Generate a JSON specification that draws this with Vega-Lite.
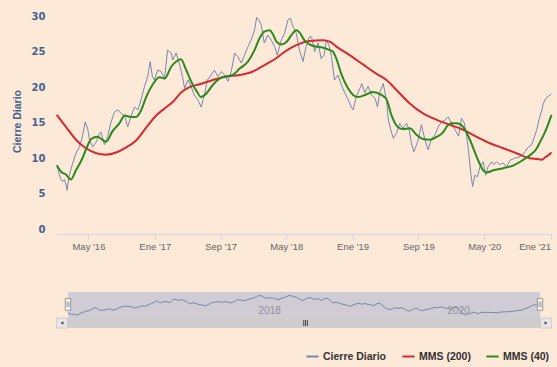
{
  "$schema": "https://vega.github.io/schema/vega-lite/v6.json",
  "background": "#fce9d8",
  "padding": {"left": 12, "top": 11, "right": 40, "bottom": 40},
  "config": {"view": {"stroke": null}, "font": "Liberation Sans"},
  "spacing": 41,
  "data": {"values": [
    {"fecha": "2016-01-07", "valor": 8.8, "serie": "Cierre Diario"},
    {"fecha": "2016-01-18", "valor": 7.2, "serie": "Cierre Diario"},
    {"fecha": "2016-01-26", "valor": 6.7, "serie": "Cierre Diario"},
    {"fecha": "2016-02-02", "valor": 7.0, "serie": "Cierre Diario"},
    {"fecha": "2016-02-09", "valor": 6.2, "serie": "Cierre Diario"},
    {"fecha": "2016-02-12", "valor": 5.5, "serie": "Cierre Diario"},
    {"fecha": "2016-02-19", "valor": 7.4, "serie": "Cierre Diario"},
    {"fecha": "2016-03-04", "valor": 9.3, "serie": "Cierre Diario"},
    {"fecha": "2016-03-16", "valor": 10.7, "serie": "Cierre Diario"},
    {"fecha": "2016-03-29", "valor": 11.6, "serie": "Cierre Diario"},
    {"fecha": "2016-04-08", "valor": 12.9, "serie": "Cierre Diario"},
    {"fecha": "2016-04-19", "valor": 15.1, "serie": "Cierre Diario"},
    {"fecha": "2016-04-28", "valor": 14.2, "serie": "Cierre Diario"},
    {"fecha": "2016-05-05", "valor": 12.6, "serie": "Cierre Diario"},
    {"fecha": "2016-05-17", "valor": 11.6, "serie": "Cierre Diario"},
    {"fecha": "2016-05-30", "valor": 12.3, "serie": "Cierre Diario"},
    {"fecha": "2016-06-10", "valor": 13.4, "serie": "Cierre Diario"},
    {"fecha": "2016-06-16", "valor": 13.7, "serie": "Cierre Diario"},
    {"fecha": "2016-06-29", "valor": 11.9, "serie": "Cierre Diario"},
    {"fecha": "2016-07-11", "valor": 13.0, "serie": "Cierre Diario"},
    {"fecha": "2016-07-22", "valor": 14.9, "serie": "Cierre Diario"},
    {"fecha": "2016-08-05", "valor": 16.5, "serie": "Cierre Diario"},
    {"fecha": "2016-08-17", "valor": 16.8, "serie": "Cierre Diario"},
    {"fecha": "2016-08-30", "valor": 16.3, "serie": "Cierre Diario"},
    {"fecha": "2016-09-12", "valor": 15.9, "serie": "Cierre Diario"},
    {"fecha": "2016-09-23", "valor": 14.4, "serie": "Cierre Diario"},
    {"fecha": "2016-10-05", "valor": 15.9, "serie": "Cierre Diario"},
    {"fecha": "2016-10-18", "valor": 17.2, "serie": "Cierre Diario"},
    {"fecha": "2016-10-31", "valor": 16.8, "serie": "Cierre Diario"},
    {"fecha": "2016-11-11", "valor": 18.2, "serie": "Cierre Diario"},
    {"fecha": "2016-11-24", "valor": 20.1, "serie": "Cierre Diario"},
    {"fecha": "2016-12-06", "valor": 21.5, "serie": "Cierre Diario"},
    {"fecha": "2016-12-15", "valor": 23.6, "serie": "Cierre Diario"},
    {"fecha": "2016-12-23", "valor": 21.5, "serie": "Cierre Diario"},
    {"fecha": "2016-12-30", "valor": 21.0, "serie": "Cierre Diario"},
    {"fecha": "2017-01-12", "valor": 22.4, "serie": "Cierre Diario"},
    {"fecha": "2017-01-24", "valor": 22.2, "serie": "Cierre Diario"},
    {"fecha": "2017-02-06", "valor": 21.2, "serie": "Cierre Diario"},
    {"fecha": "2017-02-17", "valor": 25.2, "serie": "Cierre Diario"},
    {"fecha": "2017-03-03", "valor": 24.8, "serie": "Cierre Diario"},
    {"fecha": "2017-03-08", "valor": 23.8, "serie": "Cierre Diario"},
    {"fecha": "2017-03-21", "valor": 24.8, "serie": "Cierre Diario"},
    {"fecha": "2017-04-03", "valor": 23.1, "serie": "Cierre Diario"},
    {"fecha": "2017-04-13", "valor": 21.5, "serie": "Cierre Diario"},
    {"fecha": "2017-04-21", "valor": 19.8, "serie": "Cierre Diario"},
    {"fecha": "2017-05-03", "valor": 21.0, "serie": "Cierre Diario"},
    {"fecha": "2017-05-15", "valor": 20.1, "serie": "Cierre Diario"},
    {"fecha": "2017-05-26", "valor": 18.9, "serie": "Cierre Diario"},
    {"fecha": "2017-06-09", "valor": 18.2, "serie": "Cierre Diario"},
    {"fecha": "2017-06-21", "valor": 17.2, "serie": "Cierre Diario"},
    {"fecha": "2017-07-04", "valor": 19.1, "serie": "Cierre Diario"},
    {"fecha": "2017-07-14", "valor": 21.0, "serie": "Cierre Diario"},
    {"fecha": "2017-07-28", "valor": 21.7, "serie": "Cierre Diario"},
    {"fecha": "2017-08-09", "valor": 22.4, "serie": "Cierre Diario"},
    {"fecha": "2017-08-22", "valor": 21.5, "serie": "Cierre Diario"},
    {"fecha": "2017-09-04", "valor": 22.2, "serie": "Cierre Diario"},
    {"fecha": "2017-09-15", "valor": 21.7, "serie": "Cierre Diario"},
    {"fecha": "2017-09-28", "valor": 20.8, "serie": "Cierre Diario"},
    {"fecha": "2017-10-10", "valor": 22.2, "serie": "Cierre Diario"},
    {"fecha": "2017-10-23", "valor": 24.8, "serie": "Cierre Diario"},
    {"fecha": "2017-11-03", "valor": 24.3, "serie": "Cierre Diario"},
    {"fecha": "2017-11-16", "valor": 23.4, "serie": "Cierre Diario"},
    {"fecha": "2017-11-28", "valor": 24.5, "serie": "Cierre Diario"},
    {"fecha": "2017-12-11", "valor": 25.7, "serie": "Cierre Diario"},
    {"fecha": "2017-12-22", "valor": 26.6, "serie": "Cierre Diario"},
    {"fecha": "2018-01-04", "valor": 28.0, "serie": "Cierre Diario"},
    {"fecha": "2018-01-12", "valor": 29.8, "serie": "Cierre Diario"},
    {"fecha": "2018-01-22", "valor": 29.3, "serie": "Cierre Diario"},
    {"fecha": "2018-01-29", "valor": 28.7, "serie": "Cierre Diario"},
    {"fecha": "2018-02-09", "valor": 26.2, "serie": "Cierre Diario"},
    {"fecha": "2018-02-22", "valor": 27.3, "serie": "Cierre Diario"},
    {"fecha": "2018-03-07", "valor": 26.6, "serie": "Cierre Diario"},
    {"fecha": "2018-03-19", "valor": 25.7, "serie": "Cierre Diario"},
    {"fecha": "2018-03-29", "valor": 24.5, "serie": "Cierre Diario"},
    {"fecha": "2018-04-13", "valor": 26.6, "serie": "Cierre Diario"},
    {"fecha": "2018-04-25", "valor": 27.6, "serie": "Cierre Diario"},
    {"fecha": "2018-05-07", "valor": 29.4, "serie": "Cierre Diario"},
    {"fecha": "2018-05-16", "valor": 29.7, "serie": "Cierre Diario"},
    {"fecha": "2018-05-25", "valor": 28.6, "serie": "Cierre Diario"},
    {"fecha": "2018-06-07", "valor": 27.6, "serie": "Cierre Diario"},
    {"fecha": "2018-06-19", "valor": 25.2, "serie": "Cierre Diario"},
    {"fecha": "2018-07-02", "valor": 23.6, "serie": "Cierre Diario"},
    {"fecha": "2018-07-13", "valor": 25.7, "serie": "Cierre Diario"},
    {"fecha": "2018-07-26", "valor": 27.1, "serie": "Cierre Diario"},
    {"fecha": "2018-08-03", "valor": 27.0, "serie": "Cierre Diario"},
    {"fecha": "2018-08-14", "valor": 25.0, "serie": "Cierre Diario"},
    {"fecha": "2018-08-27", "valor": 26.2, "serie": "Cierre Diario"},
    {"fecha": "2018-09-07", "valor": 24.0, "serie": "Cierre Diario"},
    {"fecha": "2018-09-18", "valor": 24.5, "serie": "Cierre Diario"},
    {"fecha": "2018-09-26", "valor": 26.6, "serie": "Cierre Diario"},
    {"fecha": "2018-10-05", "valor": 26.0, "serie": "Cierre Diario"},
    {"fecha": "2018-10-15", "valor": 24.3, "serie": "Cierre Diario"},
    {"fecha": "2018-10-26", "valor": 21.0, "serie": "Cierre Diario"},
    {"fecha": "2018-11-08", "valor": 21.7, "serie": "Cierre Diario"},
    {"fecha": "2018-11-21", "valor": 20.3, "serie": "Cierre Diario"},
    {"fecha": "2018-12-03", "valor": 19.2, "serie": "Cierre Diario"},
    {"fecha": "2018-12-14", "valor": 18.4, "serie": "Cierre Diario"},
    {"fecha": "2018-12-27", "valor": 17.2, "serie": "Cierre Diario"},
    {"fecha": "2019-01-03", "valor": 16.8, "serie": "Cierre Diario"},
    {"fecha": "2019-01-15", "valor": 18.7, "serie": "Cierre Diario"},
    {"fecha": "2019-01-28", "valor": 19.8, "serie": "Cierre Diario"},
    {"fecha": "2019-02-04", "valor": 20.5, "serie": "Cierre Diario"},
    {"fecha": "2019-02-15", "valor": 19.2, "serie": "Cierre Diario"},
    {"fecha": "2019-02-27", "valor": 20.1, "serie": "Cierre Diario"},
    {"fecha": "2019-03-12", "valor": 18.9, "serie": "Cierre Diario"},
    {"fecha": "2019-03-25", "valor": 18.4, "serie": "Cierre Diario"},
    {"fecha": "2019-04-03", "valor": 17.2, "serie": "Cierre Diario"},
    {"fecha": "2019-04-11", "valor": 19.2, "serie": "Cierre Diario"},
    {"fecha": "2019-04-24", "valor": 20.5, "serie": "Cierre Diario"},
    {"fecha": "2019-05-06", "valor": 18.2, "serie": "Cierre Diario"},
    {"fecha": "2019-05-13", "valor": 15.4, "serie": "Cierre Diario"},
    {"fecha": "2019-05-22", "valor": 14.0, "serie": "Cierre Diario"},
    {"fecha": "2019-05-31", "valor": 12.8, "serie": "Cierre Diario"},
    {"fecha": "2019-06-12", "valor": 13.5, "serie": "Cierre Diario"},
    {"fecha": "2019-06-24", "valor": 14.9, "serie": "Cierre Diario"},
    {"fecha": "2019-07-05", "valor": 14.2, "serie": "Cierre Diario"},
    {"fecha": "2019-07-19", "valor": 14.9, "serie": "Cierre Diario"},
    {"fecha": "2019-07-29", "valor": 14.0, "serie": "Cierre Diario"},
    {"fecha": "2019-08-06", "valor": 12.1, "serie": "Cierre Diario"},
    {"fecha": "2019-08-15", "valor": 10.9, "serie": "Cierre Diario"},
    {"fecha": "2019-08-29", "valor": 12.3, "serie": "Cierre Diario"},
    {"fecha": "2019-09-12", "valor": 14.7, "serie": "Cierre Diario"},
    {"fecha": "2019-09-25", "valor": 12.6, "serie": "Cierre Diario"},
    {"fecha": "2019-10-07", "valor": 11.2, "serie": "Cierre Diario"},
    {"fecha": "2019-10-18", "valor": 12.6, "serie": "Cierre Diario"},
    {"fecha": "2019-11-01", "valor": 13.3, "serie": "Cierre Diario"},
    {"fecha": "2019-11-13", "valor": 14.4, "serie": "Cierre Diario"},
    {"fecha": "2019-11-25", "valor": 15.1, "serie": "Cierre Diario"},
    {"fecha": "2019-12-09", "valor": 15.4, "serie": "Cierre Diario"},
    {"fecha": "2019-12-20", "valor": 15.8, "serie": "Cierre Diario"},
    {"fecha": "2020-01-02", "valor": 14.9, "serie": "Cierre Diario"},
    {"fecha": "2020-01-14", "valor": 14.0, "serie": "Cierre Diario"},
    {"fecha": "2020-01-27", "valor": 13.1, "serie": "Cierre Diario"},
    {"fecha": "2020-02-07", "valor": 15.6, "serie": "Cierre Diario"},
    {"fecha": "2020-02-17", "valor": 15.0, "serie": "Cierre Diario"},
    {"fecha": "2020-02-26", "valor": 13.1, "serie": "Cierre Diario"},
    {"fecha": "2020-03-05", "valor": 10.7, "serie": "Cierre Diario"},
    {"fecha": "2020-03-12", "valor": 7.9, "serie": "Cierre Diario"},
    {"fecha": "2020-03-19", "valor": 6.0, "serie": "Cierre Diario"},
    {"fecha": "2020-03-27", "valor": 7.6, "serie": "Cierre Diario"},
    {"fecha": "2020-04-06", "valor": 7.4, "serie": "Cierre Diario"},
    {"fecha": "2020-04-15", "valor": 8.8, "serie": "Cierre Diario"},
    {"fecha": "2020-04-27", "valor": 9.5, "serie": "Cierre Diario"},
    {"fecha": "2020-05-06", "valor": 7.6, "serie": "Cierre Diario"},
    {"fecha": "2020-05-15", "valor": 8.8, "serie": "Cierre Diario"},
    {"fecha": "2020-05-28", "valor": 9.5, "serie": "Cierre Diario"},
    {"fecha": "2020-06-05", "valor": 9.1, "serie": "Cierre Diario"},
    {"fecha": "2020-06-15", "valor": 9.5, "serie": "Cierre Diario"},
    {"fecha": "2020-06-26", "valor": 9.1, "serie": "Cierre Diario"},
    {"fecha": "2020-07-10", "valor": 9.3, "serie": "Cierre Diario"},
    {"fecha": "2020-07-23", "valor": 8.8, "serie": "Cierre Diario"},
    {"fecha": "2020-08-04", "valor": 9.7, "serie": "Cierre Diario"},
    {"fecha": "2020-08-21", "valor": 10.0, "serie": "Cierre Diario"},
    {"fecha": "2020-09-10", "valor": 10.2, "serie": "Cierre Diario"},
    {"fecha": "2020-09-28", "valor": 10.9, "serie": "Cierre Diario"},
    {"fecha": "2020-10-12", "valor": 11.6, "serie": "Cierre Diario"},
    {"fecha": "2020-10-23", "valor": 11.9, "serie": "Cierre Diario"},
    {"fecha": "2020-11-02", "valor": 13.0, "serie": "Cierre Diario"},
    {"fecha": "2020-11-11", "valor": 14.0, "serie": "Cierre Diario"},
    {"fecha": "2020-11-19", "valor": 15.4, "serie": "Cierre Diario"},
    {"fecha": "2020-11-30", "valor": 16.8, "serie": "Cierre Diario"},
    {"fecha": "2020-12-04", "valor": 17.6, "serie": "Cierre Diario"},
    {"fecha": "2020-12-14", "valor": 18.4, "serie": "Cierre Diario"},
    {"fecha": "2020-12-23", "valor": 18.7, "serie": "Cierre Diario"},
    {"fecha": "2021-01-04", "valor": 19.0, "serie": "Cierre Diario"},
    {"fecha": "2016-01-05", "valor": 16.1, "serie": "MMS (200)"},
    {"fecha": "2016-02-08", "valor": 14.4, "serie": "MMS (200)"},
    {"fecha": "2016-03-16", "valor": 12.6, "serie": "MMS (200)"},
    {"fecha": "2016-04-22", "valor": 11.4, "serie": "MMS (200)"},
    {"fecha": "2016-05-30", "valor": 10.7, "serie": "MMS (200)"},
    {"fecha": "2016-07-05", "valor": 10.5, "serie": "MMS (200)"},
    {"fecha": "2016-08-11", "valor": 10.8, "serie": "MMS (200)"},
    {"fecha": "2016-09-16", "valor": 11.5, "serie": "MMS (200)"},
    {"fecha": "2016-10-24", "valor": 12.5, "serie": "MMS (200)"},
    {"fecha": "2016-11-30", "valor": 14.3, "serie": "MMS (200)"},
    {"fecha": "2017-01-06", "valor": 16.0, "serie": "MMS (200)"},
    {"fecha": "2017-02-13", "valor": 17.2, "serie": "MMS (200)"},
    {"fecha": "2017-03-08", "valor": 17.9, "serie": "MMS (200)"},
    {"fecha": "2017-04-07", "valor": 19.2, "serie": "MMS (200)"},
    {"fecha": "2017-05-09", "valor": 20.0, "serie": "MMS (200)"},
    {"fecha": "2017-06-15", "valor": 20.4, "serie": "MMS (200)"},
    {"fecha": "2017-08-03", "valor": 21.0, "serie": "MMS (200)"},
    {"fecha": "2017-09-22", "valor": 21.5, "serie": "MMS (200)"},
    {"fecha": "2017-11-10", "valor": 21.7, "serie": "MMS (200)"},
    {"fecha": "2017-12-29", "valor": 22.2, "serie": "MMS (200)"},
    {"fecha": "2018-02-05", "valor": 23.0, "serie": "MMS (200)"},
    {"fecha": "2018-03-01", "valor": 23.5, "serie": "MMS (200)"},
    {"fecha": "2018-03-26", "valor": 24.1, "serie": "MMS (200)"},
    {"fecha": "2018-04-19", "valor": 24.8, "serie": "MMS (200)"},
    {"fecha": "2018-06-07", "valor": 25.9, "serie": "MMS (200)"},
    {"fecha": "2018-07-26", "valor": 26.5, "serie": "MMS (200)"},
    {"fecha": "2018-09-14", "valor": 26.6, "serie": "MMS (200)"},
    {"fecha": "2018-10-09", "valor": 26.4, "serie": "MMS (200)"},
    {"fecha": "2018-11-02", "valor": 25.7, "serie": "MMS (200)"},
    {"fecha": "2018-12-21", "valor": 24.5, "serie": "MMS (200)"},
    {"fecha": "2019-02-08", "valor": 23.2, "serie": "MMS (200)"},
    {"fecha": "2019-03-29", "valor": 21.9, "serie": "MMS (200)"},
    {"fecha": "2019-05-06", "valor": 21.0, "serie": "MMS (200)"},
    {"fecha": "2019-06-12", "valor": 19.6, "serie": "MMS (200)"},
    {"fecha": "2019-07-31", "valor": 17.7, "serie": "MMS (200)"},
    {"fecha": "2019-09-18", "valor": 16.3, "serie": "MMS (200)"},
    {"fecha": "2019-11-07", "valor": 15.4, "serie": "MMS (200)"},
    {"fecha": "2019-12-26", "valor": 14.7, "serie": "MMS (200)"},
    {"fecha": "2020-02-13", "valor": 14.0, "serie": "MMS (200)"},
    {"fecha": "2020-04-03", "valor": 13.0, "serie": "MMS (200)"},
    {"fecha": "2020-05-22", "valor": 12.1, "serie": "MMS (200)"},
    {"fecha": "2020-07-10", "valor": 11.4, "serie": "MMS (200)"},
    {"fecha": "2020-08-28", "valor": 10.7, "serie": "MMS (200)"},
    {"fecha": "2020-10-16", "valor": 10.0, "serie": "MMS (200)"},
    {"fecha": "2020-11-11", "valor": 9.9, "serie": "MMS (200)"},
    {"fecha": "2020-11-30", "valor": 9.8, "serie": "MMS (200)"},
    {"fecha": "2020-12-11", "valor": 10.1, "serie": "MMS (200)"},
    {"fecha": "2020-12-23", "valor": 10.4, "serie": "MMS (200)"},
    {"fecha": "2021-01-04", "valor": 10.8, "serie": "MMS (200)"},
    {"fecha": "2016-01-05", "valor": 9.0, "serie": "MMS (40)"},
    {"fecha": "2016-01-21", "valor": 8.1, "serie": "MMS (40)"},
    {"fecha": "2016-02-08", "valor": 7.7, "serie": "MMS (40)"},
    {"fecha": "2016-02-26", "valor": 7.0, "serie": "MMS (40)"},
    {"fecha": "2016-03-16", "valor": 8.3, "serie": "MMS (40)"},
    {"fecha": "2016-04-04", "valor": 9.6, "serie": "MMS (40)"},
    {"fecha": "2016-04-25", "valor": 11.5, "serie": "MMS (40)"},
    {"fecha": "2016-05-11", "valor": 12.7, "serie": "MMS (40)"},
    {"fecha": "2016-06-03", "valor": 13.0, "serie": "MMS (40)"},
    {"fecha": "2016-06-21", "valor": 12.6, "serie": "MMS (40)"},
    {"fecha": "2016-07-05", "valor": 12.3, "serie": "MMS (40)"},
    {"fecha": "2016-07-29", "valor": 13.8, "serie": "MMS (40)"},
    {"fecha": "2016-08-23", "valor": 14.9, "serie": "MMS (40)"},
    {"fecha": "2016-09-12", "valor": 16.0, "serie": "MMS (40)"},
    {"fecha": "2016-10-05", "valor": 15.8, "serie": "MMS (40)"},
    {"fecha": "2016-10-24", "valor": 15.8, "serie": "MMS (40)"},
    {"fecha": "2016-11-11", "valor": 16.7, "serie": "MMS (40)"},
    {"fecha": "2016-11-30", "valor": 18.6, "serie": "MMS (40)"},
    {"fecha": "2016-12-23", "valor": 20.3, "serie": "MMS (40)"},
    {"fecha": "2017-01-18", "valor": 21.4, "serie": "MMS (40)"},
    {"fecha": "2017-02-06", "valor": 21.2, "serie": "MMS (40)"},
    {"fecha": "2017-03-03", "valor": 22.9, "serie": "MMS (40)"},
    {"fecha": "2017-03-21", "valor": 23.6, "serie": "MMS (40)"},
    {"fecha": "2017-04-07", "valor": 23.9, "serie": "MMS (40)"},
    {"fecha": "2017-04-27", "valor": 22.4, "serie": "MMS (40)"},
    {"fecha": "2017-05-15", "valor": 20.8, "serie": "MMS (40)"},
    {"fecha": "2017-06-05", "valor": 19.4, "serie": "MMS (40)"},
    {"fecha": "2017-06-21", "valor": 18.6, "serie": "MMS (40)"},
    {"fecha": "2017-07-10", "valor": 19.1, "serie": "MMS (40)"},
    {"fecha": "2017-08-03", "valor": 20.3, "serie": "MMS (40)"},
    {"fecha": "2017-08-28", "valor": 21.2, "serie": "MMS (40)"},
    {"fecha": "2017-09-22", "valor": 21.5, "serie": "MMS (40)"},
    {"fecha": "2017-10-16", "valor": 21.7, "serie": "MMS (40)"},
    {"fecha": "2017-11-10", "valor": 22.6, "serie": "MMS (40)"},
    {"fecha": "2017-12-11", "valor": 23.6, "serie": "MMS (40)"},
    {"fecha": "2018-01-04", "valor": 25.2, "serie": "MMS (40)"},
    {"fecha": "2018-01-23", "valor": 26.9, "serie": "MMS (40)"},
    {"fecha": "2018-02-09", "valor": 27.8, "serie": "MMS (40)"},
    {"fecha": "2018-03-01", "valor": 28.0, "serie": "MMS (40)"},
    {"fecha": "2018-03-12", "valor": 27.5, "serie": "MMS (40)"},
    {"fecha": "2018-03-26", "valor": 26.4, "serie": "MMS (40)"},
    {"fecha": "2018-04-13", "valor": 26.0, "serie": "MMS (40)"},
    {"fecha": "2018-05-01", "valor": 26.3, "serie": "MMS (40)"},
    {"fecha": "2018-05-20", "valor": 27.3, "serie": "MMS (40)"},
    {"fecha": "2018-06-07", "valor": 28.0, "serie": "MMS (40)"},
    {"fecha": "2018-06-19", "valor": 27.7, "serie": "MMS (40)"},
    {"fecha": "2018-07-07", "valor": 26.6, "serie": "MMS (40)"},
    {"fecha": "2018-07-26", "valor": 26.0, "serie": "MMS (40)"},
    {"fecha": "2018-08-19", "valor": 25.7, "serie": "MMS (40)"},
    {"fecha": "2018-09-08", "valor": 25.6, "serie": "MMS (40)"},
    {"fecha": "2018-10-02", "valor": 25.3, "serie": "MMS (40)"},
    {"fecha": "2018-10-20", "valor": 25.0, "serie": "MMS (40)"},
    {"fecha": "2018-11-02", "valor": 24.0, "serie": "MMS (40)"},
    {"fecha": "2018-11-21", "valor": 21.8, "serie": "MMS (40)"},
    {"fecha": "2018-12-14", "valor": 19.9, "serie": "MMS (40)"},
    {"fecha": "2019-01-03", "valor": 18.9, "serie": "MMS (40)"},
    {"fecha": "2019-01-22", "valor": 18.6, "serie": "MMS (40)"},
    {"fecha": "2019-02-22", "valor": 19.0, "serie": "MMS (40)"},
    {"fecha": "2019-03-17", "valor": 19.3, "serie": "MMS (40)"},
    {"fecha": "2019-04-17", "valor": 18.9, "serie": "MMS (40)"},
    {"fecha": "2019-05-06", "valor": 18.3, "serie": "MMS (40)"},
    {"fecha": "2019-05-25", "valor": 16.0, "serie": "MMS (40)"},
    {"fecha": "2019-06-17", "valor": 14.4, "serie": "MMS (40)"},
    {"fecha": "2019-07-05", "valor": 14.1, "serie": "MMS (40)"},
    {"fecha": "2019-07-31", "valor": 14.2, "serie": "MMS (40)"},
    {"fecha": "2019-08-25", "valor": 13.3, "serie": "MMS (40)"},
    {"fecha": "2019-09-18", "valor": 12.7, "serie": "MMS (40)"},
    {"fecha": "2019-10-13", "valor": 12.6, "serie": "MMS (40)"},
    {"fecha": "2019-11-07", "valor": 13.0, "serie": "MMS (40)"},
    {"fecha": "2019-11-30", "valor": 13.6, "serie": "MMS (40)"},
    {"fecha": "2019-12-20", "valor": 14.7, "serie": "MMS (40)"},
    {"fecha": "2020-01-03", "valor": 14.9, "serie": "MMS (40)"},
    {"fecha": "2020-01-20", "valor": 14.9, "serie": "MMS (40)"},
    {"fecha": "2020-02-13", "valor": 14.4, "serie": "MMS (40)"},
    {"fecha": "2020-03-09", "valor": 12.6, "serie": "MMS (40)"},
    {"fecha": "2020-04-03", "valor": 10.2, "serie": "MMS (40)"},
    {"fecha": "2020-04-27", "valor": 8.3, "serie": "MMS (40)"},
    {"fecha": "2020-05-10", "valor": 8.0, "serie": "MMS (40)"},
    {"fecha": "2020-06-04", "valor": 8.3, "serie": "MMS (40)"},
    {"fecha": "2020-07-10", "valor": 8.6, "serie": "MMS (40)"},
    {"fecha": "2020-08-18", "valor": 9.0, "serie": "MMS (40)"},
    {"fecha": "2020-09-23", "valor": 9.8, "serie": "MMS (40)"},
    {"fecha": "2020-10-16", "valor": 10.4, "serie": "MMS (40)"},
    {"fecha": "2020-11-11", "valor": 11.4, "serie": "MMS (40)"},
    {"fecha": "2020-11-23", "valor": 12.3, "serie": "MMS (40)"},
    {"fecha": "2020-12-04", "valor": 13.1, "serie": "MMS (40)"},
    {"fecha": "2020-12-17", "valor": 14.2, "serie": "MMS (40)"},
    {"fecha": "2021-01-04", "valor": 16.1, "serie": "MMS (40)"}
  ]},
  "vconcat": [
    {
      "width": 495,
      "height": 218,
      "encoding": {
        "x": {
          "field": "fecha", "type": "temporal",
          "scale": {"domain": [{"year": 2016, "month": 1, "date": 6, "utc": true}, {"year": 2021, "month": 1, "date": 6, "utc": true}]},
          "axis": {
            "title": null,
            "values": [
              {"year": 2016, "month": 5, "date": 1, "utc": true},
              {"year": 2017, "month": 1, "date": 1, "utc": true},
              {"year": 2017, "month": 9, "date": 1, "utc": true},
              {"year": 2018, "month": 5, "date": 1, "utc": true},
              {"year": 2019, "month": 1, "date": 1, "utc": true},
              {"year": 2019, "month": 9, "date": 1, "utc": true},
              {"year": 2020, "month": 5, "date": 1, "utc": true},
              {"year": 2021, "month": 1, "date": 1, "utc": true}
            ],
            "labelExpr": "['Ene','Feb','Mar','Abr','May','Jun','Jul','Ago','Sep','Oct','Nov','Dic'][utcmonth(datum.value)] + \" '\" + utcFormat(datum.value, '%y')",
            "grid": false,
            "domainColor": "#d3d6e0",
            "tickColor": "#d3d6e0",
            "tickSize": 5,
            "labelPadding": 2,
            "labelColor": "#666666",
            "labelFont": "Liberation Sans",
            "labelFontSize": 9.5,
            "labelFlush": 5
          }
        },
        "y": {
          "field": "valor", "type": "quantitative",
          "scale": {"domain": [-0.66, 30], "nice": false, "zero": false},
          "axis": {
            "title": "Cierre Diario",
            "values": [0, 5, 10, 15, 20, 25, 30],
            "grid": false, "domain": false, "ticks": false,
            "labelPadding": 12,
            "labelFont": "DejaVu Sans",
            "labelFontWeight": "bold",
            "labelFontSize": 10,
            "labelColor": "#44628f",
            "titleFont": "Liberation Sans",
            "titleFontSize": 10.5,
            "titleFontWeight": "bold",
            "titleColor": "#44628f",
            "titleX": -40,
            "titleY": 105,
            "titleAlign": "center",
            "titleBaseline": "middle"
          }
        },
        "color": {
          "field": "serie", "type": "nominal",
          "scale": {"domain": ["Cierre Diario", "MMS (200)", "MMS (40)"], "range": ["#7788ad", "#d42a2e", "#2b8a1e"]},
          "legend": {
            "title": null,
            "orient": "none",
            "legendX": 248,
            "legendY": 333,
            "direction": "horizontal",
            "symbolType": "stroke",
            "symbolStrokeWidth": 2,
            "symbolSize": 150,
            "labelFont": "Liberation Sans",
            "labelFontWeight": "bold",
            "labelFontSize": 10.5,
            "labelColor": "#333333",
            "labelOffset": 3,
            "columnPadding": 11
          }
        }
      },
      "layer": [
        {"transform": [{"filter": "datum.serie === 'Cierre Diario'"}], "mark": {"type": "line", "strokeWidth": 1}},
        {"transform": [{"filter": "datum.serie !== 'Cierre Diario'"}], "mark": {"type": "line", "strokeWidth": 2, "interpolate": "monotone"}}
      ]
    },
    {
      "width": 495,
      "height": 36,
      "transform": [{"filter": "datum.serie === 'Cierre Diario'"}],
      "layer": [
        {
          "mark": {"type": "rect", "color": "#cfccd4"},
          "encoding": {
            "x": {"aggregate": "min", "field": "fecha", "type": "temporal", "scale": {"range": [11, 483]}, "axis": null},
            "x2": {"aggregate": "max", "field": "fecha"},
            "y": {"datum": 34, "type": "quantitative", "scale": {"domain": [-9.6, 34], "nice": false, "zero": false}, "axis": null},
            "y2": {"datum": 2.5}
          }
        },
        {
          "mark": {"type": "rect", "color": "#cdcdcd"},
          "encoding": {
            "x": {"aggregate": "min", "field": "fecha", "type": "temporal", "axis": null},
            "x2": {"aggregate": "max", "field": "fecha"},
            "y": {"datum": 2.5, "type": "quantitative", "axis": null},
            "y2": {"datum": -9.6}
          }
        },
        {
          "mark": {"type": "point", "shape": "M-1,-0.9H1V0.9H-1Z", "size": 121, "filled": true, "fill": "#e6e6e6", "stroke": "#cccccc", "strokeWidth": 1, "opacity": 1, "xOffset": -6},
          "encoding": {
            "x": {"aggregate": "min", "field": "fecha", "type": "temporal", "axis": null},
            "y": {"datum": -3.56, "type": "quantitative", "axis": null}
          }
        },
        {
          "mark": {"type": "point", "shape": "M-1,-0.9H1V0.9H-1Z", "size": 121, "filled": true, "fill": "#e6e6e6", "stroke": "#cccccc", "strokeWidth": 1, "opacity": 1, "xOffset": 6},
          "encoding": {
            "x": {"aggregate": "max", "field": "fecha", "type": "temporal", "axis": null},
            "y": {"datum": -3.56, "type": "quantitative", "axis": null}
          }
        },
        {
          "mark": {"type": "point", "shape": "triangle-left", "size": 10, "filled": true, "fill": "#333333", "opacity": 1, "xOffset": -6},
          "encoding": {
            "x": {"aggregate": "min", "field": "fecha", "type": "temporal", "axis": null},
            "y": {"datum": -3.56, "type": "quantitative", "axis": null}
          }
        },
        {
          "mark": {"type": "point", "shape": "triangle-right", "size": 10, "filled": true, "fill": "#333333", "opacity": 1, "xOffset": 6},
          "encoding": {
            "x": {"aggregate": "max", "field": "fecha", "type": "temporal", "axis": null},
            "y": {"datum": -3.56, "type": "quantitative", "axis": null}
          }
        },
        {
          "mark": {"type": "point", "shape": "M-0.6,-1V1M0,-1V1M0.6,-1V1", "size": 36, "filled": false, "stroke": "#444444", "strokeWidth": 1, "opacity": 1},
          "encoding": {
            "x": {"aggregate": "median", "field": "fecha", "type": "temporal", "axis": null},
            "y": {"datum": -3.56, "type": "quantitative", "axis": null}
          }
        },
        {
          "mark": {"type": "line", "color": "#7586ad", "strokeWidth": 1},
          "encoding": {
            "x": {"field": "fecha", "type": "temporal", "axis": null},
            "y": {"field": "valor", "type": "quantitative", "axis": null}
          }
        },
        {
          "transform": [{"aggregate": [{"op": "count", "as": "n"}]}],
          "mark": {"type": "text", "text": "2018", "align": "left", "baseline": "alphabetic", "dx": 3, "color": "#8f8f9a", "font": "Liberation Sans", "fontSize": 10},
          "encoding": {
            "x": {"datum": {"year": 2018, "month": 1, "date": 1, "utc": true}, "type": "temporal", "axis": null},
            "y": {"datum": 7.6, "type": "quantitative", "axis": null}
          }
        },
        {
          "transform": [{"aggregate": [{"op": "count", "as": "n"}]}],
          "mark": {"type": "text", "text": "2020", "align": "left", "baseline": "alphabetic", "dx": 3, "color": "#8f8f9a", "font": "Liberation Sans", "fontSize": 10},
          "encoding": {
            "x": {"datum": {"year": 2020, "month": 1, "date": 1, "utc": true}, "type": "temporal", "axis": null},
            "y": {"datum": 7.6, "type": "quantitative", "axis": null}
          }
        },
        {
          "mark": {"type": "point", "shape": "M-0.45,-1H0.45V1H-0.45Z M-0.15,-0.45V0.45 M0.15,-0.45V0.45", "size": 144, "filled": false, "fill": "#f2f2f2", "stroke": "#999999", "strokeWidth": 1, "opacity": 1},
          "encoding": {
            "x": {"aggregate": "min", "field": "fecha", "type": "temporal", "axis": null},
            "y": {"datum": 19, "type": "quantitative", "axis": null}
          }
        },
        {
          "mark": {"type": "point", "shape": "M-0.45,-1H0.45V1H-0.45Z M-0.15,-0.45V0.45 M0.15,-0.45V0.45", "size": 144, "filled": false, "fill": "#f2f2f2", "stroke": "#999999", "strokeWidth": 1, "opacity": 1},
          "encoding": {
            "x": {"aggregate": "max", "field": "fecha", "type": "temporal", "axis": null},
            "y": {"datum": 19, "type": "quantitative", "axis": null}
          }
        }
      ]
    }
  ]
}
